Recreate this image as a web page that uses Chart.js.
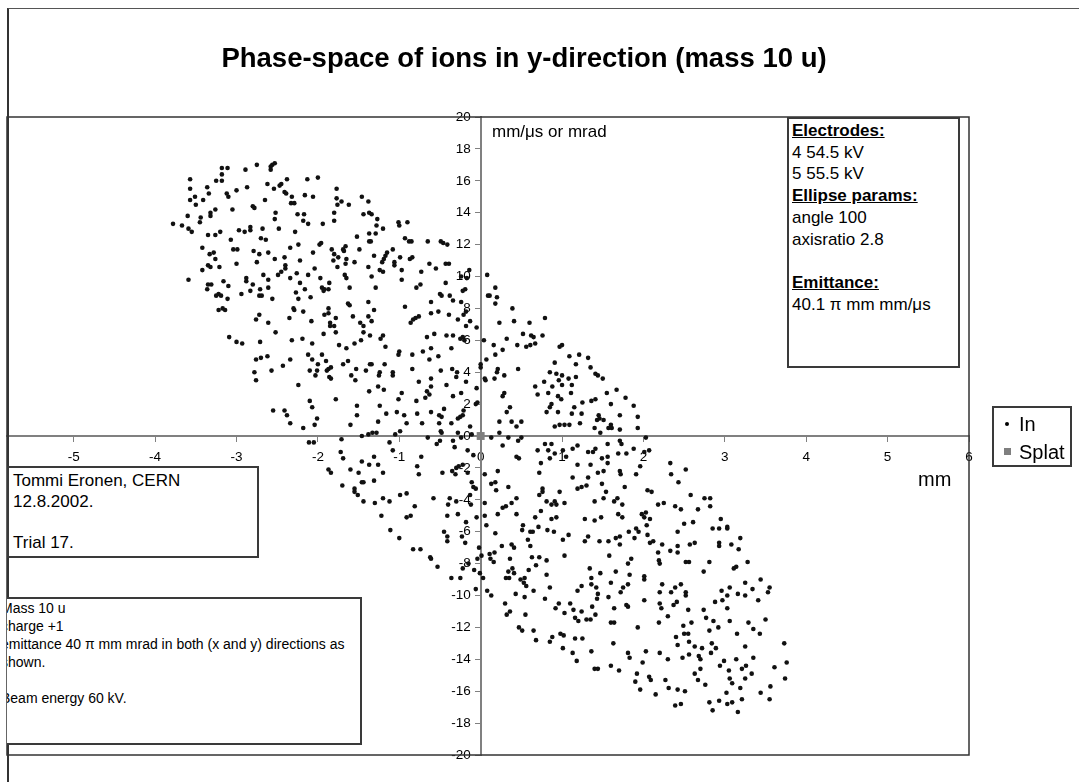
<!DOCTYPE html>
<html>
<head>
<meta charset="utf-8">
<script src="https://cdn.jsdelivr.net/npm/chart.js@4.4.1/dist/chart.umd.min.js"></script>
<style>
body{margin:0;background:#fff;font-family:"Liberation Sans",Arial,sans-serif;color:#000;}
#wrap{position:relative;width:1079px;height:782px;overflow:hidden;}
#cv{position:absolute;left:0;top:0;}
.abs{position:absolute;white-space:nowrap;}
#outer{position:absolute;left:7px;top:8px;width:1090px;height:800px;border-top:1px solid #555;border-left:2px solid #333;}
#title{left:0;width:1048px;top:42px;text-align:center;font-weight:bold;font-size:27.5px;}
#unitY{left:492px;top:122px;font-size:17px;}
#unitX{left:918px;top:468px;font-size:20px;}
.box{position:absolute;border:2px solid #3a3a3a;background:#fff;box-sizing:border-box;}
#info{left:787px;top:117px;width:173px;height:251px;font-size:17px;line-height:21.7px;padding:1px 0 0 3px;}
#info u{font-weight:bold;}
#author{left:7px;top:466px;width:252px;height:92px;font-size:17px;line-height:20.7px;padding:3px 0 0 4px;}
#clip{position:absolute;left:7px;top:597px;width:356px;height:150px;overflow:hidden;}
#notes{left:-12px;top:0;width:367px;height:148px;font-size:14px;line-height:18px;padding:0 0 0 4px;}
#legend{left:992px;top:406px;width:80px;height:61px;font-size:20px;line-height:28px;padding:2px 0 0 0;}
#legend div{position:relative;padding-left:25px;}
.mk{position:absolute;left:11px;top:12px;width:4px;height:4px;border-radius:50%;background:#000;}
.mk.sq{left:10px;top:10px;width:7px;height:7px;border-radius:0;background:#7f7f7f;}
</style>
</head>
<body>
<div id="wrap">
<canvas id="cv" width="1079" height="782"></canvas>
<div id="outer"></div>
<div id="title" class="abs">Phase-space of ions in y-direction (mass 10 u)</div>
<div id="unitY" class="abs">mm/&mu;s or mrad</div>
<div id="unitX" class="abs">mm</div>
<div id="info" class="box"><u>Electrodes:</u><br>4 54.5 kV<br>5 55.5 kV<br><u>Ellipse params:</u><br>angle 100<br>axisratio 2.8<br><br><u>Emittance:</u><br>40.1 &pi; mm mm/&mu;s</div>
<div id="author" class="box">Tommi Eronen, CERN<br>12.8.2002.<br><br>Trial 17.</div>
<div id="clip"><div id="notes" class="box">Mass 10 u<br>charge +1<br>emittance 40 &pi; mm mrad in both (x and y) directions as<br>shown.<br><br>Beam energy 60 kV.</div></div>
<div id="legend" class="box"><div><span class="mk"></span>In</div><div><span class="mk sq"></span>Splat</div></div>
</div>
<script>
// tick labels
const xTicks = [-5, -4, -3, -2, -1, 0, 1, 2, 3, 4, 5, 6];
const yTicks = [-20, -18, -16, -14, -12, -10, -8, -6, -4, -2, 0, 2, 4, 6, 8, 10, 12, 14, 16, 18, 20];

// Splat marker (mm, mm/us)
const splatX = [0];
const splatY = [0];

// "In" ions: [position mm, angle mm/us], upper left part of the cloud
const ionsUpper = [
[-2.75,17.0],[-2.58,16.9],[-2.56,17.0],[-2.53,17.1],[-2.58,16.7],[-3.18,16.8],[-3.11,16.8],[-2.89,16.7],[-3.18,16.4],[-3.57,16.1],[-3.25,16.0],[-3.18,16.0],[-2.38,16.1],[-2.13,16.1],[-2.00,16.2],[-2.62,15.8],[-2.45,15.8],[-2.47,15.7],[-3.36,15.6],[-2.87,15.6],[-2.54,15.5],[-3.57,15.5],[-1.77,15.5],[-2.41,15.3],[-2.39,15.2],[-3.34,15.2],[-3.12,15.2],[-3.00,15.4],[-3.10,15.0],[-3.51,15.0],[-3.57,14.8],[-3.41,14.8],[-2.65,14.8],[-2.32,15.0],[-2.16,15.1],[-2.06,15.0],[-1.77,14.9],[-1.71,14.7],[-1.76,14.5],[-1.62,14.5],[-1.46,15.0],[-1.38,14.7],[-2.33,14.6],[-2.29,14.6],[-2.80,14.4],[-2.78,14.3],[-3.05,14.2],[-3.50,14.5],[-3.26,14.2],[-3.32,14.0],[-3.32,13.8],[-3.60,13.8],[-3.44,13.7],[-3.45,13.4],[-3.78,13.3],[-3.67,13.2],[-3.59,13.0],[-3.55,12.8],[-2.52,14.0],[-2.53,13.6],[-2.25,13.9],[-2.17,13.9],[-2.18,13.5],[-2.12,13.3],[-1.94,13.3],[-1.80,14.0],[-1.80,13.5],[-1.44,13.9],[-1.37,14.0],
[-3.35,12.6],[-3.26,12.6],[-3.20,12.8],[-3.07,12.3],[-2.97,12.9],[-2.90,12.8],[-2.83,12.9],[-2.83,13.1],[-2.68,13.0],[-2.48,13.0],[-2.28,12.8],[-2.70,12.4],[-2.64,12.3],[-1.52,12.5],[-1.37,12.7],[-1.37,12.2],
[-3.42,11.8],[-3.33,11.4],[-3.28,11.5],[-3.26,11.1],[-3.04,11.7],[-2.99,11.7],[-2.79,11.6],[-2.72,11.4],[-2.61,11.5],[-2.41,11.2],[-2.53,11.1],[-2.34,11.8],[-2.24,12.0],[-2.06,11.5],[-1.98,12.0],[-1.96,12.1],[-1.83,11.7],[-1.80,11.4],[-1.69,11.7],[-1.66,11.9],[-1.68,11.6],[-1.75,11.2],[-1.81,11.0],[-1.65,11.1],[-1.49,11.7],
[-3.35,10.7],[-3.32,10.6],[-3.21,10.6],[-3.42,10.4],[-3.00,10.8],[-2.75,10.9],[-2.22,11.0],[-2.40,10.7],[-2.40,10.5],[-2.45,10.3],[-2.49,10.1],[-2.26,10.2],[-2.12,10.1],[-2.04,10.5],[-1.66,10.8],[-1.55,10.9],[-1.76,10.6],[-1.67,10.1],[-1.65,9.9],[-1.38,10.6],
[-3.59,9.8],[-3.16,9.7],[-2.88,9.9],[-2.88,9.7],[-2.80,9.5],[-2.67,10.1],[-2.61,9.8],[-2.34,9.9],[-2.22,9.6],[-1.97,9.9],[-1.86,9.6],[-3.35,9.5],[-3.31,9.5],[-3.36,9.2],[-3.10,9.4],[-2.83,9.1],[-2.71,9.2],[-2.61,9.3],[-2.16,9.2],[-1.95,9.3],[-1.92,9.2],[-1.87,9.2],[-1.93,9.1],[-1.61,9.3],
[-3.25,8.8],[-3.22,8.9],[-3.19,8.8],[-3.11,8.6],[-2.94,8.9],[-2.72,8.8],[-2.69,8.8],[-2.56,8.6],[-2.27,9.0],[-2.24,8.6],[-2.09,8.7],[-3.22,7.9],[-3.17,8.0],[-3.14,7.9],[-2.30,8.0],[-2.29,7.9],[-2.18,7.8],[-1.87,8.0],[-1.63,8.3],[-1.61,8.2],[-1.38,8.4],[-2.72,7.6],[-2.76,7.3],[-2.61,7.1],[-2.35,7.4],[-2.08,7.2],[-1.87,7.7],[-1.92,7.6],[-1.85,7.1],[-1.78,7.4],[-1.57,7.5],[-1.48,7.1],[-1.38,7.5],
[-1.34,13.9],[-1.27,13.6],[-1.28,13.2],[-1.20,13.0],[-1.29,12.7],[-1.01,13.4],[-1.00,13.2],[-0.90,13.4],[-1.35,12.2],[-0.93,12.4],[-0.88,12.2],[-0.85,12.2],[-0.65,12.2],[-0.49,12.2],[-0.46,12.1],[-0.41,12.0],[-1.08,11.7],[-1.15,11.5],[-1.17,11.3],[-1.19,11.1],[-1.21,10.9],[-1.31,11.3],[-1.06,10.9],[-1.06,10.7],[-0.99,11.2],[-0.84,11.2],[-0.87,11.1],[-0.63,10.8],[-0.55,10.5],[-0.43,10.8],[-0.39,10.8],[-1.24,10.4],[-1.20,10.3],[-0.97,10.4],[-1.34,10.0],[-1.29,9.3],[-0.97,9.8],[-0.73,10.3],[-0.79,9.3],[-0.74,9.5],[-0.43,9.6],[-0.24,10.0],[-0.14,10.4],[-0.17,9.9],[-0.19,9.2],[-0.22,9.1],[-0.50,8.9],[-0.48,8.8],[-0.61,8.4],[-0.34,8.5],[-0.38,8.8],[-0.24,8.4],[-0.93,8.1],[-0.76,7.5],[-0.80,7.4],[-0.83,7.3],[-0.86,7.1],[-0.61,7.7],[-0.52,7.8],[-0.39,7.6],[-0.28,7.3],[-0.21,7.6],[-0.18,7.8],[-0.13,7.2],[-1.31,7.9],[-1.34,7.2],[0.08,10.1],[0.09,8.8],[0.11,8.8],[0.18,9.3],[0.20,8.7],[0.18,8.3],[0.39,8.0],[0.41,7.2],[0.23,7.1],[0.60,7.1],[0.79,7.4]
];

// middle band, left of the cloud centre
const ionsMidLeft = [
[-2.52,6.5],[-1.85,6.9],[-1.80,6.9],[-1.78,6.5],[-1.93,6.4],[-1.44,6.9],[-1.44,6.5],[-3.09,6.2],[-3.00,5.9],[-2.93,5.8],[-2.71,5.9],[-2.32,6.0],[-2.19,6.1],[-2.07,5.8],[-1.74,5.7],[-1.65,5.5],[-1.55,5.8],[-1.47,6.0],[-1.36,6.3],[-2.76,4.8],[-2.70,4.9],[-2.62,5.0],[-2.57,4.1],[-2.43,4.4],[-2.34,4.8],[-2.12,5.1],[-2.07,4.8],[-2.00,4.5],[-1.95,5.1],[-1.90,4.7],[-1.84,4.3],[-1.87,4.2],[-1.89,4.1],[-2.10,4.1],[-2.03,3.8],[-2.01,4.1],[-1.86,3.7],[-1.84,3.6],[-1.69,4.5],[-1.63,4.7],[-1.53,4.2],[-1.59,3.8],[-1.54,3.5],[-1.41,4.1],[-1.36,4.5],[-2.78,4.0],[-2.76,3.5],[-2.24,3.2],[-1.78,2.3],[-2.10,2.2],[-2.07,1.8],[-1.52,1.9],[-1.52,1.3],[-1.37,2.8],[-2.55,1.6],[-2.41,1.6],[-2.38,1.3],[-2.34,0.8],[-2.18,0.5],[-2.04,0.7],[-2.01,1.1],[-1.60,0.7],[-1.46,0.0],[-1.38,0.1],[-2.11,-0.4],[-2.05,-0.4],[-1.71,-0.2],[-1.72,-1.0],[-1.69,-1.4],[-1.46,-1.6],[-1.37,-1.8],[-1.87,-2.1],[-1.84,-2.3],[-1.60,-2.1],[-1.50,-2.3],[-1.46,-2.9],[-1.44,-2.9],[-1.70,-3.1],[-1.55,-3.3],[-1.55,-3.5],[-1.51,-3.7],[-1.44,-4.1]
];

// centre of the cloud
const ionsCentre = [
[-1.20,6.3],[-1.23,6.1],[-1.17,5.6],[-0.66,6.2],[-0.57,6.4],[-0.61,5.5],[-0.71,5.3],[-0.42,6.3],[-0.34,6.3],[-0.36,5.5],[-0.25,6.1],[-0.22,6.2],[-0.20,6.0],[-0.18,6.9],[-0.05,6.8],[0.04,6.0],[0.16,5.7],[0.32,6.1],[0.45,5.7],[0.52,6.4],[0.62,6.3],[0.65,6.2],[0.76,6.3],[0.56,5.6],[0.61,5.7],[0.67,5.8],[0.97,5.6],[1.00,5.7],[0.27,5.4],
[-1.34,4.5],[-1.00,5.3],[-1.01,5.1],[-0.84,5.1],[-0.63,4.8],[-0.52,5.0],[0.00,4.5],[0.00,4.3],[0.07,4.8],[0.18,5.1],[0.21,4.2],[0.46,4.2],[0.91,4.6],[0.85,4.0],[1.09,5.0],[1.17,4.5],[-1.18,4.5],[-1.24,4.0],[-1.25,3.8],[-1.08,4.0],[-1.08,3.8],[-0.84,4.2],[-0.49,4.1],[-0.35,4.2],[-0.29,4.0],[-0.30,3.7],[-0.76,3.4],[-0.61,3.6],[0.20,4.0],[0.05,3.6],[0.06,3.5],[0.17,3.6],[0.29,3.8],[0.78,3.4],[0.93,3.9],[1.00,3.8],[0.96,3.5],[0.88,3.1],[1.00,3.2],[1.08,3.6],[1.12,3.2],[1.17,3.7],
[-1.26,3.1],[-1.19,2.9],[-0.97,2.7],[-0.61,3.1],[-0.66,2.8],[-0.63,2.6],[-0.42,3.2],[-0.18,3.4],[-0.24,2.7],[-0.34,2.5],[-0.05,3.0],[0.29,2.7],[0.27,2.5],[0.67,3.1],[0.70,2.6],[0.83,2.7],[0.95,2.5],[1.11,2.7],[-0.79,2.2],[-1.01,2.3],[-0.68,2.4],
[-1.24,1.9],[-1.26,0.9],[-1.16,1.4],[-1.03,1.5],[-0.94,1.3],[-0.91,0.8],[-0.78,1.4],[-0.61,1.5],[-0.51,1.3],[-0.48,1.2],[-0.51,0.8],[-0.45,1.7],[-0.36,0.8],[-0.28,1.1],[-0.25,1.2],[-0.22,1.3],[-0.21,1.6],[-0.13,0.6],[-0.06,2.0],[-0.04,2.1],[-0.72,0.8],[-1.05,0.1],[-0.99,0.3],[-1.33,0.2],[-1.28,0.2],[-0.49,0.3],[-0.48,0.2],[-0.50,-0.3],[-0.34,-0.3],[-0.28,0.2],[-0.11,0.1],[0.23,0.9],[0.36,1.8],[0.32,1.5],[0.38,0.9],[0.50,0.9],[0.44,0.6],[0.85,1.8],[0.87,2.0],[0.81,1.5],[0.95,1.5],[1.15,1.8],[1.12,1.4],[1.03,0.7],[0.91,0.6],[0.97,0.7],[1.09,0.7],[0.99,2.3],
[-1.08,-0.9],[-1.31,-1.3],[-1.26,-1.8],[-1.20,-2.3],[-1.12,-0.4],[-0.65,-0.1],[-0.54,-0.5],[-0.32,-0.7],[-0.16,-0.9],[-0.24,-0.1],[-0.09,-1.2],[0.23,0.2],[0.13,-0.1],[0.27,-0.6],[0.34,-0.1],[0.46,-0.3],[0.50,-0.1],[0.44,-1.3],[0.47,-1.4],[0.70,-0.9],[0.79,-0.5],[0.83,-0.9],[0.87,-0.5],[1.01,-0.9],[1.13,-0.8],[1.19,-0.6],[0.91,-1.1],[0.85,-1.4],[1.05,-1.3],[1.19,-1.8],[0.74,-1.7],[0.72,-2.3],[1.13,-2.6],
[-0.73,-1.3],[-0.78,-1.9],[-0.76,-2.4],[-0.47,-2.3],[-0.35,-2.2],[-0.30,-2.0],[-0.27,-1.9],[-0.31,-2.4],[-0.22,-1.8],[-0.16,-2.3],[0.05,-2.4],[0.21,-2.2],[-0.11,-2.9],[-0.09,-3.2],[-0.06,-3.3],[0.13,-3.0],[0.18,-2.9],[0.19,-3.4],[0.34,-3.2],[-1.31,-2.8],[-1.20,-3.9],[-1.12,-4.1],[-1.30,-4.2],[-0.99,-3.7],[-0.91,-3.6],[-0.58,-3.9],[-0.38,-3.9],[-0.30,-4.1],[-0.13,-3.7],[-0.12,-4.3],[0.05,-4.2],[0.38,-4.2],[0.31,-4.4],[0.27,-4.5],[0.44,-3.9],[0.72,-3.7],[0.76,-3.5],[0.76,-3.3],[0.81,-4.1],[0.87,-4.3],[0.91,-4.1],[0.93,-4.3],[0.97,-3.5],[1.03,-4.2],[1.19,-3.3],[-1.22,-5.0],[-0.81,-4.4],[-0.91,-5.1],[-0.86,-5.0],[-0.40,-4.3],[-0.41,-5.0],[-0.28,-4.9],[-0.18,-5.4],[-0.05,-5.1],[0.05,-5.0],[0.21,-4.9],[0.44,-4.9],[0.67,-5.1],[0.74,-4.7],[0.87,-5.2],[0.93,-5.1]
];

// middle band, right of the centre
const ionsMidRight = [
[1.21,5.1],[1.32,4.9],[1.35,4.3],[1.41,3.9],[1.44,3.8],[1.50,3.6],[1.25,2.1],[1.36,2.2],[1.41,2.3],[1.55,2.7],[1.67,2.9],[1.60,2.0],[1.78,2.4],[1.88,1.9],[1.24,1.4],[1.22,0.8],[1.45,1.3],[1.46,1.1],[1.43,1.0],[1.51,1.0],[1.71,1.3],[1.93,1.2],[1.40,0.5],[1.47,0.2],[1.57,0.5],[1.60,0.7],[1.61,0.5],[1.71,0.4],[1.93,0.5],[2.03,-0.1],[1.56,-0.5],[1.71,-0.3],[1.73,-0.5],[1.32,-1.0],[1.38,-1.0],[1.41,-0.8],[1.69,-1.1],[1.79,-1.1],[1.88,-0.8],[2.01,-1.0],[2.07,-0.9],[1.49,-1.4],[1.56,-1.3],[1.56,-1.7],[1.35,-1.8],[1.71,-2.2],[1.72,-2.4],[1.44,-2.3],[1.51,-2.2],[1.91,-2.4],[1.96,-1.9],[1.24,-3.2],[1.30,-3.1],[1.32,-2.6],[1.49,-3.0],[1.54,-3.5],[1.77,-3.2],[2.33,-1.7],[2.34,-2.4],[2.43,-2.9],[2.52,-2.1],[2.05,-3.4],[2.10,-3.5],[1.40,-4.1],[1.51,-3.9],[1.64,-4.1],[1.68,-3.9],[1.74,-4.3],[2.18,-4.3],[2.25,-4.2],[2.39,-4.4],[2.46,-4.6],[2.58,-3.7],[2.75,-3.9],[2.82,-3.9],[2.82,-4.4],[2.67,-4.6],[1.28,-5.2],[1.40,-5.3],[1.48,-5.1],[1.69,-4.9],[1.74,-5.1],[1.98,-4.9],[2.03,-4.8],[2.01,-5.1],[2.08,-5.2],[2.95,-5.2],[2.50,-5.5],[2.61,-5.4]
];

// lower right part of the cloud
const ionsLower = [
[-1.11,-5.9],[-1.00,-6.4],[-0.83,-7.1],[-0.74,-7.1],[-0.62,-7.6],[-0.61,-7.7],[-0.53,-8.2],[-0.36,-8.9],[-0.25,-8.9],[-0.45,-6.0],[-0.41,-6.3],[-0.41,-6.6],[-0.23,-6.3],[-0.19,-6.7],[-0.02,-7.0],[0.01,-7.5],[-0.04,-7.7],[-0.15,-8.0],[-0.22,-8.3],[-0.08,-8.4],[-0.01,-8.6],[0.03,-8.9],[-0.06,-9.6],[0.08,-9.7],[0.13,-10.0],[0.11,-7.4],[0.12,-7.7],[0.17,-7.3],[0.16,-7.9],[0.18,-6.1],[0.26,-6.9],[0.38,-6.8],[0.41,-7.0],[0.36,-7.7],[0.39,-8.3],[0.34,-8.5],[0.31,-8.9],[0.35,-8.9],[0.41,-8.6],[0.49,-9.0],[0.54,-8.9],[0.53,-9.2],[0.56,-9.4],[0.65,-9.7],[0.59,-8.4],[0.63,-7.6],[0.68,-8.1],[0.72,-7.6],[0.81,-7.8],[0.81,-8.7],[0.85,-9.5],[0.54,-10.1],[0.43,-9.9],[0.30,-10.5],[0.36,-11.0],[0.32,-11.2],[0.55,-11.2],[0.47,-12.0],[0.51,-12.2],[0.65,-12.2],[0.68,-12.8],[0.79,-10.2],[0.92,-10.8],[0.96,-10.5],[1.03,-11.1],[1.10,-10.5],[1.14,-10.9],[1.16,-11.4],[1.20,-11.6],[1.19,-9.7],[0.85,-12.9],[0.88,-12.6],[0.98,-12.4],[1.02,-12.5],[1.01,-13.3],[1.13,-13.6],[1.18,-14.1],[1.16,-12.7],[1.03,-7.5],[0.51,-5.9],[0.61,-6.0],[0.58,-6.5],[0.61,-6.9],[0.64,-6.0],[0.52,-5.6],[0.71,-5.7],[0.82,-5.9],[0.90,-6.0],[1.01,-6.5],[1.08,-6.2],[0.07,-5.6],
[1.82,-6.0],[1.91,-5.8],[1.94,-6.0],[2.04,-5.6],[2.05,-6.2],[1.89,-6.4],[1.71,-6.8],[1.66,-6.4],[1.71,-6.3],[1.57,-6.6],[1.46,-6.6],[1.32,-6.3],[1.28,-6.6],[2.42,-6.0],[2.85,-5.8],[2.93,-5.8],[3.03,-5.7],[3.03,-5.8],[3.19,-6.4],[2.93,-6.7],[3.08,-6.8],[2.93,-6.9],[3.17,-7.1],[2.08,-6.7],[2.12,-6.6],[2.23,-6.8],[2.18,-7.3],[2.33,-7.2],[2.42,-6.9],[2.42,-7.3],[2.57,-6.8],[2.63,-6.7],
[1.58,-7.5],[1.85,-7.7],[1.81,-8.0],[2.19,-7.8],[2.20,-8.0],[2.52,-7.9],[2.56,-7.9],[2.81,-7.9],[2.74,-8.5],[3.11,-8.3],[3.14,-8.2],[3.28,-7.9],[1.34,-8.3],[1.47,-8.6],[1.66,-8.5],[1.83,-8.7],[2.01,-8.8],[2.01,-9.0],[1.36,-8.9],[1.60,-9.2],[1.24,-9.4],[1.36,-9.3],[1.42,-9.5],[1.75,-9.5],[1.81,-9.3],[1.44,-9.9],[1.43,-10.2],[1.57,-10.1],[1.72,-9.8],[2.23,-9.3],[2.20,-9.8],[2.34,-9.8],[2.39,-9.5],[2.46,-9.3],[2.52,-9.8],[2.52,-10.0],[2.01,-10.3],[2.20,-10.5],[2.22,-10.8],[2.37,-10.6],[2.41,-10.4],[2.55,-10.9],[2.30,-11.3],
[1.24,-11.0],[1.30,-11.5],[1.35,-11.5],[1.41,-11.2],[1.37,-10.7],[1.64,-10.8],[1.79,-10.6],[1.81,-10.7],[1.60,-11.7],[1.64,-11.7],[2.19,-11.7],[1.93,-12.0],[1.25,-12.7],[1.36,-13.5],[1.63,-13.0],[1.81,-13.6],[1.83,-13.9],[2.03,-13.5],[1.99,-14.2],[2.20,-13.6],[2.30,-14.0],[2.48,-13.9],[2.56,-13.7],[2.63,-13.2],[2.72,-13.3],[2.68,-13.8],[2.70,-14.0],[2.56,-12.9],[2.55,-12.4],[2.50,-12.4],[2.49,-11.9],[2.59,-11.7],[2.40,-12.6],[2.42,-13.1],
[2.74,-10.9],[2.77,-11.4],[2.86,-11.6],[2.81,-12.2],[2.84,-13.0],[2.89,-13.3],[2.83,-13.6],[2.92,-12.0],[2.96,-9.7],[3.06,-9.5],[3.03,-10.0],[2.97,-10.3],[2.88,-10.4],[3.03,-10.8],[3.06,-11.6],[3.16,-9.9],[3.25,-9.2],[3.25,-10.0],[3.34,-9.6],[3.41,-10.3],[3.44,-9.0],[3.55,-9.5],[3.53,-9.8],[3.15,-12.4],[3.29,-11.7],[3.35,-12.1],[3.43,-12.4],[3.50,-11.5],[3.25,-13.2],[3.35,-13.9],
[2.99,-14.1],[2.94,-14.4],[3.05,-14.7],[3.06,-15.2],[3.09,-15.5],[3.14,-14.0],[3.21,-14.6],[3.26,-14.4],[3.33,-14.9],[3.25,-15.2],[3.19,-15.8],[3.02,-16.1],[2.93,-16.6],[3.03,-16.8],[3.09,-16.7],[3.21,-16.5],[3.16,-17.3],[2.81,-16.7],[2.85,-17.2],[3.44,-16.1],[3.55,-16.5],[3.56,-15.7],[3.61,-14.5],[3.73,-13.0],[3.76,-14.2],[3.74,-15.2],
[1.40,-14.6],[1.44,-14.6],[1.60,-14.4],[1.70,-14.7],[1.92,-14.9],[1.90,-15.4],[1.96,-15.9],[2.07,-15.1],[2.09,-15.3],[2.15,-16.2],[2.27,-15.3],[2.31,-15.8],[2.42,-15.9],[2.51,-16.0],[2.39,-16.9],[2.46,-16.8],[2.63,-14.9],[2.67,-15.3],[2.70,-14.6],[2.76,-15.6]
];

const toXY = p => ({x: p[0], y: p[1]});
const ionData = [].concat(ionsUpper, ionsMidLeft, ionsCentre, ionsMidRight, ionsLower).map(toXY);
const splatData = splatX.map((v, i) => ({x: v, y: splatY[i]}));

// plot frame drawn round the chart area
const framePlugin = {
  id: 'frame',
  afterDraw(chart) {
    const a = chart.chartArea;
    const ctx = chart.ctx;
    ctx.save();
    ctx.strokeStyle = '#333';
    ctx.lineWidth = 1.5;
    ctx.strokeRect(a.left, a.top, a.right - a.left, a.bottom - a.top);
    ctx.restore();
  }
};

// y labels of an axis placed at x = 0 sit right on the line; move them left of the tick marks
function shiftYLabels(s) {
  const base = Object.getPrototypeOf(s).drawLabels;
  s.drawLabels = function (area) {
    this.ctx.save();
    this.ctx.translate(-10, 0);
    base.call(this, area);
    this.ctx.restore();
  };
}

const tickFont = {family: '"Liberation Sans", Arial, sans-serif', size: 13.5};

new Chart(document.getElementById('cv'), {
  type: 'scatter',
  data: {
    datasets: [
      {label: 'In', data: ionData, order: 1, pointStyle: 'circle', pointRadius: 2.3, pointHoverRadius: 2.3,
       backgroundColor: '#111', borderColor: '#111', borderWidth: 0},
      {label: 'Splat', data: splatData, order: 0, pointStyle: 'rect', pointRadius: 5.6, pointHoverRadius: 5.6,
       backgroundColor: '#7f7f7f', borderColor: '#7f7f7f', borderWidth: 0}
    ]
  },
  options: {
    responsive: false,
    animation: false,
    events: [],
    layout: {padding: {left: 7, top: 117, right: 110, bottom: 27}},
    plugins: {legend: {display: false}, tooltip: {enabled: false}, title: {display: false}},
    scales: {
      x: {
        type: 'linear', min: -5.82, max: 6,
        position: {y: 0},
        afterBuildTicks: s => { s.ticks = xTicks.map(v => ({value: v})); },
        afterFit: s => { s.height = 0; },
        grid: {drawOnChartArea: false, drawTicks: true, tickLength: 5, color: '#808080', lineWidth: 1},
        border: {display: true, color: '#808080', width: 2},
        ticks: {color: '#000', font: tickFont, padding: 8, maxRotation: 0, autoSkip: false}
      },
      y: {
        type: 'linear', min: -20, max: 20,
        position: {x: 0},
        afterBuildTicks: s => { s.ticks = yTicks.map(v => ({value: v})); },
        afterFit: s => { s.width = 0; },
        afterUpdate: shiftYLabels,
        grid: {drawOnChartArea: false, drawTicks: true, tickLength: 5, color: '#808080', lineWidth: 1},
        border: {display: true, color: '#808080', width: 2},
        ticks: {color: '#000', font: tickFont, padding: 5, autoSkip: false}
      }
    }
  },
  plugins: [framePlugin]
});
</script>
</body>
</html>
